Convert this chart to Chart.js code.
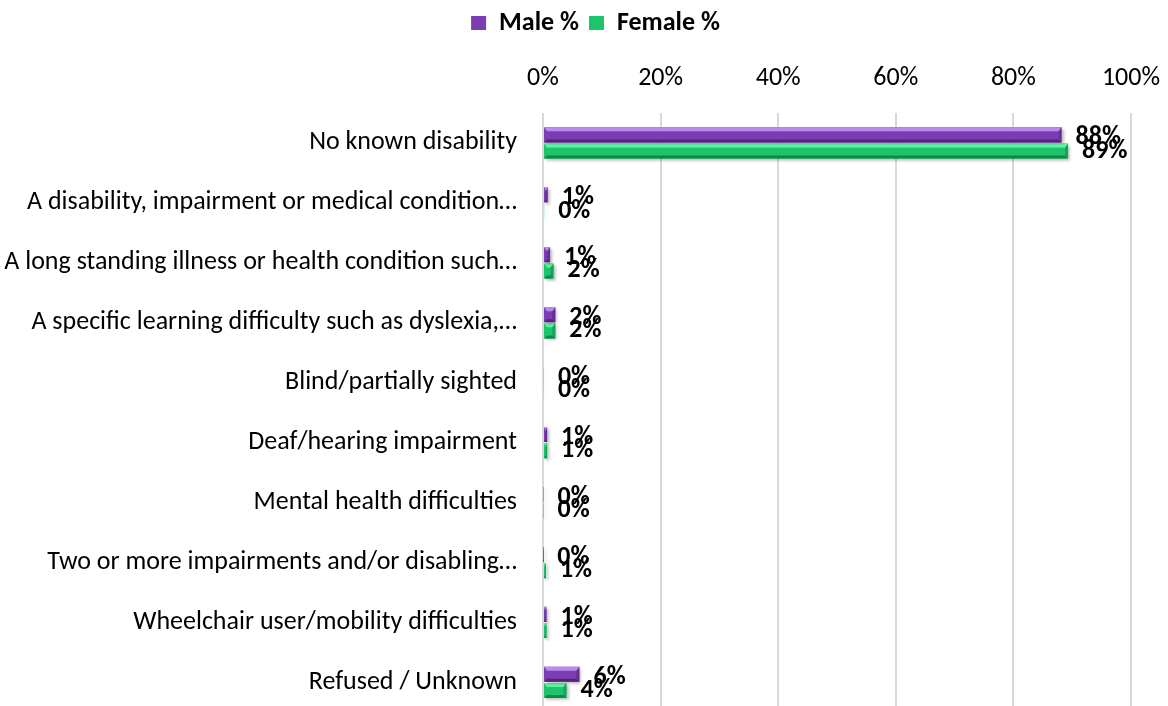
<!DOCTYPE html>
<html>
<head>
<meta charset="utf-8">
<script src="https://cdn.jsdelivr.net/npm/chart.js@4/dist/chart.umd.min.js"></script>
<style>
  html, body { margin: 0; padding: 0; background: #fff; overflow: hidden; }
  #wrap { width: 1168px; height: 728px; position: relative; }
</style>
</head>
<body>
<div id="wrap"><canvas id="c" width="1168" height="728"></canvas></div>
<script>
const categories = [
  'No known disability',
  'A disability, impairment or medical condition…',
  'A long standing illness or health condition such…',
  'A specific learning difficulty such as dyslexia,…',
  'Blind/partially sighted',
  'Deaf/hearing impairment',
  'Mental health difficulties',
  'Two or more impairments and/or disabling…',
  'Wheelchair user/mobility difficulties',
  'Refused / Unknown'
];
const maleValues   = [88.2, 0.8, 1.2, 2.1, 0.15, 0.7, 0.1, 0.05, 0.6, 6.2];
const femaleValues = [89.3, 0.2, 1.8, 2.1, 0.15, 0.7, 0.1, 0.5, 0.6, 4.0];
const seriesNames = ['Male %', 'Female %'];
const tickLabels = ['0%', '20%', '40%', '60%', '80%', '100%'];

const FONT = 'Carlito, Lato, "Liberation Sans", sans-serif';
const palette = {
  male:   { base: '#7A3DB3', light: '#B98CEB', dark: '#522577' },
  female: { base: '#1DC46B', light: '#62F5A8', dark: '#0D8A47' }
};

const shadowPlugin = {
  id: 'barShadow',
  beforeDatasetDraw(chart) {
    const ctx = chart.ctx;
    ctx.save();
    ctx.shadowColor = 'rgba(0,0,0,0.28)';
    ctx.shadowBlur = 3;
    ctx.shadowOffsetX = 2;
    ctx.shadowOffsetY = 2;
  },
  afterDatasetDraw(chart) {
    chart.ctx.restore();
  }
};

const bevelPlugin = {
  id: 'bevel',
  afterDatasetDraw(chart, args) {
    const ctx = chart.ctx;
    const meta = args.meta;
    const pal = args.index === 0 ? palette.male : palette.female;
    ctx.save();
    meta.data.forEach(el => {
      const left = Math.min(el.base, el.x), right = Math.max(el.base, el.x);
      const w = right - left;
      if (w < 0.5) return;
      const top = el.y - el.height / 2, h = el.height;
      const t = Math.min(3, w / 2);
      ctx.fillStyle = pal.light;
      ctx.beginPath();
      ctx.moveTo(left, top); ctx.lineTo(right, top);
      ctx.lineTo(right - t, top + 4); ctx.lineTo(left + t, top + 4);
      ctx.closePath(); ctx.fill();
      ctx.fillStyle = pal.dark;
      ctx.beginPath();
      ctx.moveTo(left, top + h); ctx.lineTo(right, top + h);
      ctx.lineTo(right - t, top + h - 3); ctx.lineTo(left + t, top + h - 3);
      ctx.closePath(); ctx.fill();
      ctx.globalAlpha = 0.55;
      ctx.beginPath();
      ctx.moveTo(right, top); ctx.lineTo(right, top + h);
      ctx.lineTo(right - t, top + h - 3); ctx.lineTo(right - t, top + 4);
      ctx.closePath(); ctx.fill();
      ctx.globalAlpha = 1;
    });
    ctx.restore();
  }
};

const labelPlugin = {
  id: 'barLabels',
  afterDatasetsDraw(chart) {
    const ctx = chart.ctx;
    ctx.save();
    ctx.font = 'bold 26px ' + FONT;
    ctx.fillStyle = '#000';
    ctx.textAlign = 'left';
    ctx.textBaseline = 'middle';
    chart.data.datasets.forEach((ds, di) => {
      const meta = chart.getDatasetMeta(di);
      meta.data.forEach((el, i) => {
        const txt = Math.round(ds.data[i]) + '%';
        ctx.fillText(txt, el.x + 14, el.y + (di === 0 ? 3 : 0));
      });
    });
    ctx.restore();
  }
};

const legendShift = {
  id: 'legendShift',
  afterLayout(chart) {
    if (chart.legend) { chart.legend.left += 30; chart.legend.right += 30; }
  }
};

new Chart(document.getElementById('c'), {
  type: 'bar',
  data: {
    labels: categories,
    datasets: [
      { label: seriesNames[0], data: maleValues, backgroundColor: palette.male.base,
        borderColor: palette.male.dark, borderWidth: 0,
        categoryPercentage: 0.54, barPercentage: 0.93 },
      { label: seriesNames[1], data: femaleValues, backgroundColor: palette.female.base,
        borderColor: palette.female.dark, borderWidth: 0,
        categoryPercentage: 0.54, barPercentage: 0.93 }
    ]
  },
  options: {
    indexAxis: 'y',
    responsive: false,
    animation: false,
    layout: { padding: { left: 0, right: 37, top: 0, bottom: 0 } },
    plugins: {
      legend: {
        position: 'top',
        align: 'center',
        labels: {
          color: '#000',
          font: { family: FONT, size: 26, weight: 'bold' },
          boxWidth: 15, boxHeight: 14, padding: 10
        }
      },
      tooltip: { enabled: false }
    },
    scales: {
      x: {
        position: 'top',
        min: 0, max: 100,
        ticks: {
          stepSize: 20,
          color: '#000',
          font: { family: FONT, size: 26 },
          padding: 0,
          callback: (v, i) => tickLabels[i]
        },
        grid: { color: '#D9D9D9', lineWidth: 2, drawTicks: true, tickLength: 19, tickColor: 'rgba(0,0,0,0)' },
        border: { display: false },
        afterFit: s => { s.height = 67; }
      },
      y: {
        ticks: {
          color: '#000',
          font: { family: FONT, size: 26 },
          padding: 0,
          autoSkip: false
        },
        grid: { display: true, drawOnChartArea: false, drawTicks: true, tickLength: 26, tickColor: 'rgba(0,0,0,0)' },
        border: { display: false },
        afterFit: s => { s.width = 543; }
      }
    }
  },
  plugins: [shadowPlugin, bevelPlugin, labelPlugin, legendShift]
});
</script>
</body>
</html>
